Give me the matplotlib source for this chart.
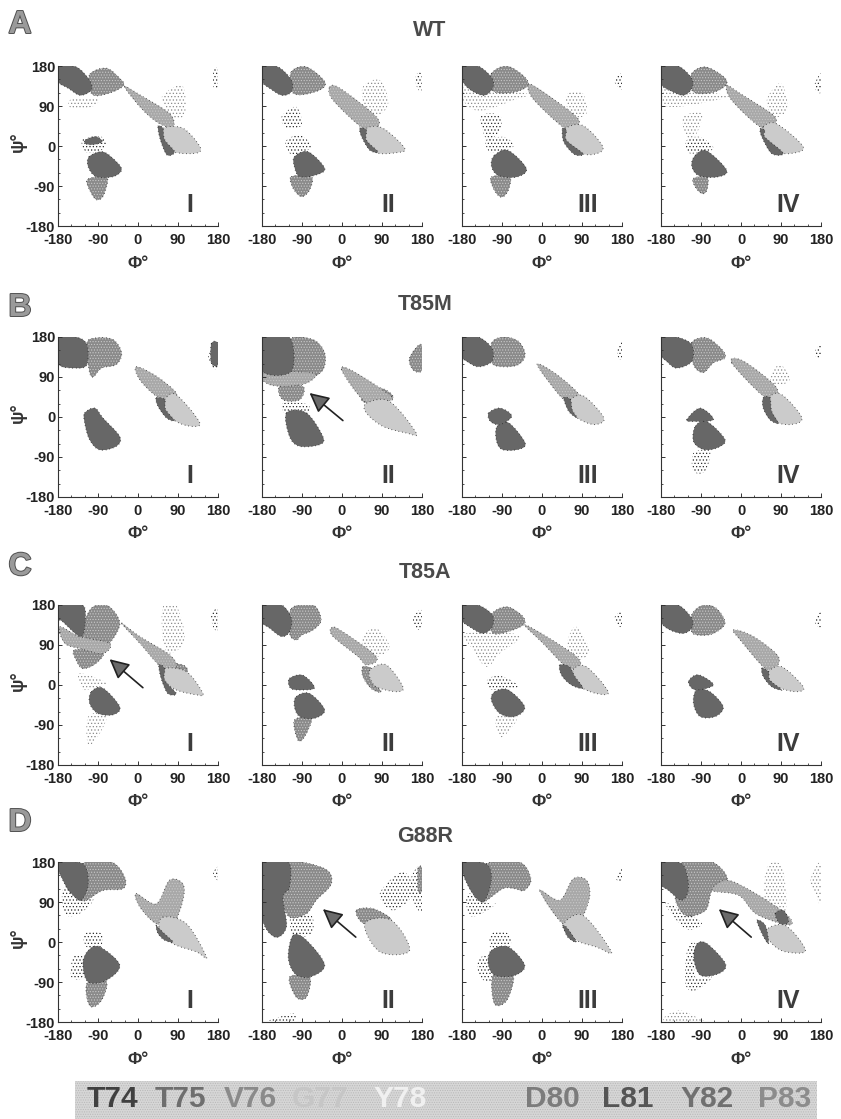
"""Ramachandran panels (WT, T85M, T85A, G88R), residue clouds traced as outlines."""

import matplotlib

matplotlib.use("Agg")
import matplotlib.patheffects as pe
import matplotlib.pyplot as plt
from matplotlib.patches import PathPatch, Rectangle
from matplotlib.path import Path
from matplotlib.ticker import MultipleLocator

plt.rcParams["font.family"] = ["Liberation Sans", "DejaVu Sans"]
plt.rcParams["hatch.linewidth"] = 0.5
plt.rcParams["axes.unicode_minus"] = False

W, H = 841, 1119

ROW_NAMES = ["A", "B", "C", "D"]
ROW_TITLES = ["WT", "T85M", "T85A", "G88R"]
REPLICAS = ["I", "II", "III", "IV"]
TICKS = [-180, -90, 0, 90, 180]
RESIDUES = ["T74", "T75", "V76", "G77", "Y78", "D80", "L81", "Y82", "P83"]
RESIDUE_GREYS = ["#404040", "#6e6e6e", "#8a8a8a", "#c6c6c6", "#f0f0f0",
                 "#7c7c7c", "#555555", "#707070", "#8c8c8c"]

# ---- traced outlines (phi, psi) per panel -------------------------------
A1_DARK = [[(-180,178),(-139,178),(-109,148),(-105,126),(-130,114),(-157,130),(-180,145)],
           [(-110,-24),(-79,-13),(-49,-35),(-37,-54),(-56,-69),(-94,-69),(-112,-47)],
           [(45,44),(56,40),(60,14),(82,-13),(65,-20),(50,15)],
           [(-118,14),(-95,21),(-80,10),(-100,3),(-118,5)]]
A1_MID = [[(-108,162),(-71,175),(-41,152),(-32,137),(-56,122),(-94,113),(-108,126)],
          [(-112,-74),(-70,-70),(-78,-112),(-95,-120),(-112,-92)]]
A1_TAIL = [[(-30,133),(4,115),(71,73),(79,43),(49,50),(11,81)]]
A1_LIGHT = [[(56,40),(101,40),(139,-1),(131,-16),(79,-13),(56,14)]]
A1_SPARSE = [[(-150,105),(-90,105),(-105,88),(-150,85)],
             [(56,115),(100,135),(105,70),(70,65),(60,90)]]
A1_SPECK = [[(170,172),(180,172),(180,133),(170,133)],
            [(-125,15),(-80,20),(-75,-5),(-115,-15)]]

A2_DARK = [[(-180,178),(-144,178),(-114,148),(-114,122),(-135,114),(-160,128),(-180,145)],
           [(-107,-24),(-76,-13),(-39,-50),(-58,-65),(-95,-69),(-107,-47)],
           [(40,40),(55,36),(55,13),(81,-13),(62,-9),(44,21)]]
A2_MID = [[(-114,167),(-80,178),(-39,145),(-50,126),(-95,115),(-114,126)],
          [(-114,-69),(-69,-69),(-73,-99),(-91,-114),(-110,-95)]]
A2_TAIL = [[(-28,132),(-5,130),(77,66),(77,40),(47,40),(-20,103)]]
A2_LIGHT = [[(55,40),(92,40),(141,-5),(122,-15),(77,-15),(55,13)]]
A2_SPARSE = [[(47,133),(85,148),(104,96),(77,66),(51,88)]]
A2_SPECK = [[(-125,13),(-95,25),(-69,-2),(-110,-20),(-125,-2)],
            [(-136,66),(-103,88),(-91,47),(-125,40)],
            [(167,160),(178,163),(178,122),(167,137)]]

A3_DARK = [[(-180,180),(-144,180),(-114,155),(-110,133),(-129,114),(-159,125),(-180,148)],
           [(-107,-21),(-76,-10),(-35,-51),(-58,-70),(-99,-66),(-114,-44)],
           [(46,39),(55,35),(55,13),(92,-17),(73,-19),(49,9)]]
A3_MID = [[(-114,163),(-80,180),(-43,159),(-31,137),(-58,122),(-95,119),(-114,129)],
          [(-114,-70),(-73,-70),(-76,-100),(-91,-115),(-107,-100)]]
A3_TAIL = [[(-31,137),(-8,129),(78,65),(74,43),(47,43),(-20,106)]]
A3_LIGHT = [[(51,39),(92,46),(137,-2),(115,-19),(77,-13),(51,17)]]
A3_SPARSE = [[(-174,133),(-35,118),(-65,103),(-133,80),(-170,92)],
             [(58,118),(92,118),(100,73),(70,65),(55,92)]]
A3_SPECK = [[(-125,13),(-84,20),(-65,-2),(-106,-14),(-121,-10)],
            [(-136,69),(-95,69),(-95,35),(-121,13),(-133,35)],
            [(163,148),(180,163),(180,129),(171,133)]]

A4_DARK = [[(-180,180),(-141,180),(-111,152),(-111,129),(-130,114),(-160,125),(-180,140)],
           [(-103,-21),(-77,-11),(-32,-55),(-55,-70),(-96,-66),(-111,-44)],
           [(43,39),(54,35),(54,20),(95,-16),(69,-17),(47,20)]]
A4_MID = [[(-111,163),(-81,178),(-43,159),(-32,140),(-58,122),(-96,118),(-111,129)],
          [(-107,-73),(-76,-70),(-77,-100),(-88,-107),(-103,-92)]]
A4_TAIL = [[(-32,136),(-2,118),(73,69),(73,47),(43,43),(-21,103)]]
A4_LIGHT = [[(50,43),(80,50),(140,-2),(110,-17),(73,-10),(50,20)]]
A4_SPARSE = [[(-130,65),(-88,73),(-100,28),(-122,20)],
             [(58,103),(84,140),(99,125),(103,80),(73,65)],
             [(-175,129),(-32,114),(-77,99),(-145,88),(-175,95)]]
A4_SPECK = [[(-122,13),(-92,20),(-62,-6),(-107,-17),(-122,-10)],
            [(166,140),(180,163),(180,121),(169,125)]]

B1_DARK = [[(-180,180),(-139,180),(-115,163),(-115,118),(-139,110),(-180,120)],
           [(-120,9),(-97,20),(-79,-2),(-41,-44),(-49,-66),(-86,-74),(-109,-51),(-120,-13)],
           [(41,43),(60,39),(62,17),(82,-8),(64,-2),(45,24)],
           [(165,165),(180,165),(180,118),(165,122)]]
B1_MID = [[(-115,166),(-94,178),(-56,174),(-37,144),(-49,118),(-82,110),(-101,90),(-110,106)]]
B1_TAIL = [[(-4,113),(41,92),(86,54),(71,39),(41,47),(4,84)]]
B1_LIGHT = [[(60,39),(86,50),(139,-13),(113,-20),(79,-6),(60,17)]]
B1_SPECK = [[(158,133),(169,163),(180,163),(180,114),(169,110)]]

B2_DARK = [[(-180,180),(-118,180),(-114,103),(-180,103)],
           [(-125,9),(-80,9),(-43,-44),(-50,-62),(-95,-66),(-118,-44)]]
B2_MID = [[(-118,174),(-65,174),(-39,144),(-43,106),(-73,88),(-110,95),(-118,103)],
          [(-140,69),(-88,69),(-95,39),(-133,39)],
          [(44,43),(85,65),(115,43),(62,31)],
          [(152,133),(178,163),(180,106),(160,106)]]
B2_TAIL = [[(-180,99),(-65,99),(-80,76),(-133,69),(-170,76)],
           [(-1,106),(25,103),(111,46),(92,35),(51,35)]]
B2_LIGHT = [[(55,31),(107,35),(167,-36),(145,-36),(92,-21),(55,9)]]
B2_SPECK = [[(-133,31),(-77,28),(-80,5),(-125,5)]]

B3_DARK = [[(-180,180),(-143,180),(-113,155),(-113,125),(-143,113),(-169,125),(-180,137)],
           [(-101,-21),(-75,-13),(-38,-58),(-53,-73),(-90,-73),(-103,-51)],
           [(49,43),(64,39),(68,16),(79,-2),(60,13)],
           [(-120,9),(-94,20),(-68,2),(-94,-17),(-116,-10)]]
B3_MID = [[(-113,167),(-86,180),(-53,170),(-38,140),(-53,118),(-86,113),(-113,122)]]
B3_TAIL = [[(-11,118),(34,95),(86,47),(60,39),(41,47)]]
B3_LIGHT = [[(64,39),(94,47),(139,-2),(117,-17),(79,-2),(64,20)]]
B3_SPECK = [[(169,151),(180,170),(180,133),(172,133)]]

B4_DARK = [[(-180,180),(-145,180),(-111,163),(-111,125),(-145,110),(-167,125),(-180,140)],
           [(-103,-21),(-77,-10),(-36,-51),(-55,-70),(-85,-73),(-107,-55)],
           [(50,43),(65,43),(69,13),(84,-14),(65,-6),(50,20)],
           [(-122,-6),(-92,20),(-62,-6),(-107,-10)]]
B4_MID = [[(-111,167),(-77,178),(-43,152),(-36,133),(-62,122),(-85,100),(-107,118)]]
B4_TAIL = [[(-21,122),(5,126),(77,70),(77,43),(50,47)]]
B4_LIGHT = [[(65,43),(92,50),(137,-2),(110,-17),(73,-6)]]
B4_SPARSE = [[(65,91),(88,118),(110,84),(77,70)]]
B4_SPECK = [[(-107,-81),(-70,-77),(-81,-122),(-107,-122)],
            [(166,148),(180,163),(180,133),(169,136)]]

C1_DARK = [[(-180,180),(-124,180),(-120,131),(-131,109),(-169,142),(-180,150)],
           [(-105,-15),(-79,-7),(-41,-49),(-56,-67),(-90,-64),(-109,-41)],
           [(47,45),(60,37),(60,11),(86,-19),(67,-19),(52,15)]]
C1_MID = [[(-120,146),(-101,176),(-67,178),(-41,139),(-64,94),(-94,71),(-120,105),(-131,112)],
          [(-142,79),(-79,75),(-94,49),(-124,37),(-139,56)],
          [(56,50),(101,45),(109,30),(60,37)]]
C1_TAIL = [[(-176,131),(-131,109),(-64,94),(-79,71),(-131,82),(-165,94)],
           [(-37,139),(4,109),(71,68),(86,41),(56,37),(4,94)]]
C1_LIGHT = [[(60,37),(109,30),(146,-19),(131,-22),(86,-11),(60,11)]]
C1_SPARSE = [[(-112,-71),(-71,-67),(-86,-109),(-112,-135)],
             [(56,176),(86,180),(105,101),(71,71),(56,101)],
             [(-131,26),(-71,4),(-116,-11),(-128,-4)]]
C1_SPECK = [[(165,158),(180,172),(180,124),(169,131)]]

C2_DARK = [[(-180,180),(-136,180),(-114,150),(-118,120),(-136,109),(-163,128),(-180,142)],
           [(-103,-26),(-73,-19),(-39,-56),(-62,-75),(-95,-71),(-107,-49)],
           [(-118,15),(-88,22),(-62,-7),(-103,-11),(-118,-4)]]
C2_MID = [[(-114,172),(-65,180),(-47,146),(-65,124),(-91,112),(-103,101),(-118,116)],
          [(47,41),(66,37),(62,19),(88,-15),(66,-8),(47,19)],
          [(-107,-79),(-69,-75),(-84,-116),(-99,-124)]]
C2_TAIL = [[(-24,128),(-5,124),(77,64),(55,45),(36,64),(-20,109)]]
C2_LIGHT = [[(66,37),(100,45),(137,-4),(122,-15),(77,-4),(62,19)]]
C2_SPARSE = [[(47,109),(77,128),(107,86),(81,64),(51,71)]]
C2_SPECK = [[(160,150),(178,169),(178,128),(167,128)]]

C3_DARK = [[(-180,180),(-144,180),(-112,158),(-112,131),(-133,116),(-163,131),(-180,146)],
           [(-106,-15),(-76,-11),(-39,-49),(-61,-71),(-95,-64),(-114,-34)],
           [(40,45),(62,41),(74,19),(92,-7),(66,0),(44,22)]]
C3_MID = [[(-114,158),(-80,176),(-47,158),(-39,139),(-65,124),(-110,116)]]
C3_TAIL = [[(-39,135),(10,109),(77,64),(85,41),(55,41),(2,94)]]
C3_LIGHT = [[(70,34),(100,41),(149,-15),(122,-19),(81,0)]]
C3_SPARSE = [[(-103,-71),(-58,-75),(-76,-105),(-95,-116)],
             [(58,101),(77,131),(107,79),(85,56),(62,68)],
             [(-170,116),(-50,112),(-95,71),(-125,41),(-155,79)]]
C3_SPECK = [[(-121,15),(-88,19),(-54,-4),(-106,-11),(-121,-4)],
            [(164,154),(180,165),(180,131),(167,139)]]

C4_DARK = [[(-180,180),(-141,180),(-111,150),(-111,128),(-130,116),(-160,124),(-180,142)],
           [(-100,-11),(-70,-15),(-40,-49),(-58,-71),(-92,-71),(-107,-41)],
           [(47,38),(62,30),(65,11),(92,-11),(69,-4),(50,19)],
           [(-118,8),(-96,23),(-62,0),(-103,-11)]]
C4_MID = [[(-111,158),(-85,180),(-55,172),(-36,139),(-62,116),(-92,112),(-111,120)]]
C4_TAIL = [[(-17,124),(28,109),(84,64),(73,34),(50,41),(1,98)]]
C4_LIGHT = [[(62,30),(92,41),(140,-4),(125,-15),(88,-7),(65,11)]]
C4_SPECK = [[(167,146),(180,165),(180,131),(169,135)]]

D1_DARK = [[(-180,176),(-124,176),(-112,131),(-128,94),(-150,109),(-165,131)],
           [(-112,-19),(-86,-11),(-41,-52),(-71,-86),(-112,-90),(-124,-49)],
           [(41,37),(56,22),(79,0),(60,4),(45,19)]]
D1_MID = [[(-124,176),(-60,180),(-30,146),(-34,120),(-79,116),(-128,94)],
          [(-112,-90),(-71,-90),(-82,-131),(-105,-146),(-116,-120)]]
D1_TAIL = [[(-4,109),(41,86),(71,139),(101,131),(101,94),(79,41),(41,41),(4,79)]]
D1_LIGHT = [[(56,56),(109,41),(154,-34),(131,-22),(79,-4),(49,26)]]
D1_SPECK = [[(-120,19),(-82,19),(-86,-15),(-116,-11)],
            [(-146,-34),(-124,-34),(-124,-79),(-150,-79)],
            [(-165,124),(-101,101),(-131,64),(-165,64)],
            [(169,154),(180,169),(180,139)]]

D2_DARK = [[(-180,180),(-121,180),(-118,124),(-133,101),(-125,34),(-151,11),(-180,56)],
           [(-110,15),(-80,4),(-39,-52),(-73,-79),(-106,-71),(-121,-34)]]
D2_MID = [[(-121,180),(-39,165),(-24,131),(-58,94),(-80,64),(-118,56),(-136,101),(-121,124)],
          [(-118,-79),(-73,-79),(-80,-124),(-103,-124)],
          [(32,71),(70,75),(111,49),(51,41)],
          [(171,165),(180,165),(180,116),(171,116)]]
D2_LIGHT = [[(51,41),(111,49),(152,-19),(85,-22)]]
D2_SPECK = [[(-114,60),(-69,60),(-69,19),(-110,15)],
            [(85,109),(137,158),(160,109),(115,71)],
            [(156,146),(180,169),(180,71),(160,94)],
            [(-163,-176),(-110,-161),(-110,-180),(-163,-180)]]

D3_DARK = [[(-180,176),(-126,176),(-114,139),(-133,90),(-163,120)],
           [(-114,-19),(-76,-11),(-39,-52),(-61,-75),(-106,-75),(-121,-49)],
           [(47,37),(58,30),(77,0),(58,11)]]
D3_MID = [[(-126,176),(-51,180),(-25,142),(-40,116),(-62,120),(-88,120),(-133,90),(-114,139)],
          [(-110,-75),(-65,-75),(-79,-131),(-107,-139)]]
D3_TAIL = [[(-5,116),(40,94),(70,142),(100,139),(107,101),(85,49),(47,41)]]
D3_LIGHT = [[(47,37),(92,60),(156,-22),(122,-11),(77,4)]]
D3_SPECK = [[(-114,19),(-76,19),(-73,-11),(-114,-15)],
            [(-144,-41),(-121,-34),(-114,-86),(-140,-79)],
            [(-166,109),(-118,86),(-103,86),(-144,60),(-166,64)],
            [(167,142),(180,169),(180,139)]]

D4_DARK = [[(-180,176),(-133,176),(-118,124),(-133,94),(-163,116),(-180,131)],
           [(-99,-4),(-76,-4),(-35,-49),(-50,-71),(-91,-75),(-106,-37)],
           [(36,49),(55,37),(62,-4),(47,19)],
           [(77,64),(96,71),(107,45),(88,41)]]
D4_MID = [[(-133,180),(-65,180),(-31,142),(-65,116),(-80,71),(-125,60),(-148,101),(-118,124)]]
D4_TAIL = [[(-31,139),(33,109),(100,64),(115,41),(92,41),(33,64),(-5,105),(-65,116)]]
D4_LIGHT = [[(55,26),(100,37),(145,-19),(100,-22),(70,-4)]]
D4_SPARSE = [[(-174,-176),(-140,-154),(-95,-172),(-88,-180)],
             [(59,169),(92,169),(100,71),(55,94)],
             [(156,139),(180,180),(180,86),(167,109)]]
D4_SPECK = [[(-170,86),(-125,68),(-88,41),(-125,30)],
            [(-121,-19),(-103,-4),(-103,-79),(-65,-79),(-103,-109),(-125,-94)]]

# arrows: tail (phi, psi), head (phi, psi)
ARROW_PANELS = ["B2", "C1", "D2", "D4"]
ARROW_TAILS = [(2, -8), (11, -6), (31, 11), (23, 11)]
ARROW_HEADS = [(-73, 54), (-64, 58), (-43, 74), (-50, 74)]

# ---- layout in reference pixels ------------------------------------------
COL_LEFT = [58, 262, 462, 661]
ROW_TOP = [66, 337, 605, 862]
PANEL_SIZE = 160
TITLE_X = [430, 425, 425, 425]
TITLE_Y = [30, 304, 572, 837]
LETTER_Y = [25, 308, 567, 823]
LABEL_PHI = [117, 103, 103, 106]
RESIDUE_X = [112, 180, 250, 320, 400, 552, 628, 707, 785]

STYLES = {
    "MID": "#8a8a8a",
    "TAIL": "#a8a8a8",
    "LIGHT": "#cbcbcb",
    "DARK": "#676767",
}


def fx(x):
    return x / W


def fy(y):
    return 1 - y / H


def blob(points):
    # smooth closed outline through the traced points (Catmull-Rom as Bezier)
    n = len(points)
    verts, codes = [points[0]], [Path.MOVETO]
    for i in range(n):
        p0, p1 = points[i - 1], points[i]
        p2, p3 = points[(i + 1) % n], points[(i + 2) % n]
        verts.append((p1[0] + (p2[0] - p0[0]) / 6, p1[1] + (p2[1] - p0[1]) / 6))
        verts.append((p2[0] - (p3[0] - p1[0]) / 6, p2[1] - (p3[1] - p1[1]) / 6))
        verts.append(p2)
        codes += [Path.CURVE4, Path.CURVE4, Path.CURVE4]
    return Path(verts, codes)


fig = plt.figure(figsize=(W / 100, H / 100), dpi=100)

for r, row in enumerate(ROW_NAMES):
    for c in range(4):
        ax = fig.add_axes([fx(COL_LEFT[c]), fy(ROW_TOP[r] + PANEL_SIZE),
                           PANEL_SIZE / W, PANEL_SIZE / H])
        key = f"{row}{c + 1}"

        # sparse clouds first, filled clouds over them
        for pts in globals().get(f"{key}_SPARSE", []):
            ax.add_patch(PathPatch(blob(pts), fc="none", ec="#8a8a8a", lw=0, hatch="....."))
        for pts in globals().get(f"{key}_SPECK", []):
            ax.add_patch(PathPatch(blob(pts), fc="none", ec="#2a2a2a", lw=0, hatch="....."))
        for kind, color in STYLES.items():
            for pts in globals().get(f"{key}_{kind}", []):
                path = blob(pts)
                ax.add_patch(PathPatch(path, fc=color, ec="#222222", lw=0.7,
                                       ls=(0, (0.7, 3.0))))
                if kind in ("MID", "TAIL"):
                    ax.add_patch(PathPatch(path, fc="none", ec="#c8c8c8", lw=0, hatch="......"))

        ax.set_xlim(-180, 180)
        ax.set_ylim(-180, 180)
        ax.set_xticks(TICKS)
        ax.set_yticks(TICKS)
        ax.xaxis.set_minor_locator(MultipleLocator(30))
        ax.yaxis.set_minor_locator(MultipleLocator(30))
        ax.spines["top"].set_visible(False)
        ax.spines["right"].set_visible(False)
        for side in ("left", "bottom"):
            ax.spines[side].set_color("#333333")
            ax.spines[side].set_linewidth(0.8)
        ax.tick_params(which="major", direction="in", length=3, width=0.7, color="#333333")
        ax.tick_params(which="minor", direction="in", length=1.5, width=0.6, color="#333333")
        ax.tick_params(axis="x", which="major", pad=5)
        ax.tick_params(axis="y", which="major", pad=2)
        for lab in ax.get_xticklabels():
            lab.set(fontsize=10.5, fontweight="bold", color="#222222")
        if c == 0:
            for lab in ax.get_yticklabels():
                lab.set(fontsize=10.5, fontweight="bold", color="#222222")
        else:
            ax.set_yticklabels([])

        ax.text(LABEL_PHI[c], -132, REPLICAS[c], ha="center", va="center", fontsize=18,
                fontweight="bold", color="#3c3c3c")

        fig.text(fx(COL_LEFT[c] + 80), fy(ROW_TOP[r] + 197), "Φ°", ha="center", va="center",
                 fontsize=12.5, fontweight="bold", color="#333333")

        if key in ARROW_PANELS:
            i = ARROW_PANELS.index(key)
            ax.annotate("", xy=ARROW_HEADS[i], xytext=ARROW_TAILS[i],
                        arrowprops=dict(arrowstyle="-|>,head_length=0.7,head_width=0.35",
                                        mutation_scale=17, fc="#6a6a6a", ec="#222222",
                                        lw=1.2, shrinkA=0, shrinkB=0))

    fig.text(fx(18), fy(ROW_TOP[r] + 76), "ψ°", rotation=90, ha="center", va="center",
             fontsize=13, fontweight="bold", color="#333333")
    fig.text(fx(20), fy(LETTER_Y[r]), row, ha="center", va="center", fontsize=23,
             fontweight="bold", color="#9a9a9a",
             path_effects=[pe.withStroke(linewidth=1.4, foreground="#505050")])
    fig.text(fx(TITLE_X[r]), fy(TITLE_Y[r]), ROW_TITLES[r], ha="center", va="center",
             fontsize=15.5, fontweight="bold", color="#4a4a4a")

# residue key along the bottom
band = Rectangle((fx(75), 0), 742 / W, 38 / H, transform=fig.transFigure,
                 fc="#d6d6d6", ec="#b8b8b8", hatch=".......", lw=0)
fig.add_artist(band)
for name, x, grey in zip(RESIDUES, RESIDUE_X, RESIDUE_GREYS):
    fig.text(fx(x), fy(1099), name, ha="center", va="center", fontsize=21.5,
             fontweight="bold", color=grey)

fig.savefig("out.png", dpi=100)
